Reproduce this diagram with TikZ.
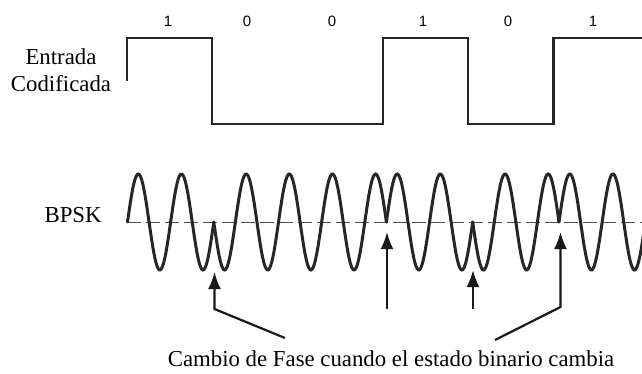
\documentclass[tikz,border=0pt]{standalone}
\usepackage{fontspec}
\setmainfont{Liberation Serif}
\newfontfamily\digitos{Liberation Sans}
\usetikzlibrary{arrows.meta, calc, positioning}

\begin{document}
\begin{tikzpicture}[
  x=0.5pt, y=-0.5pt,
  etiq/.style={font=\fontsize{11.4}{13.3}\selectfont, inner sep=0pt, align=center},
  bit/.style={font=\digitos\fontsize{7.5}{8}\selectfont, inner sep=0pt},
  cuadrada/.style={line width=1.1pt, black!85, line join=miter},
  onda/.style={line width=1.5pt, black!85, line cap=round},
  eje/.style={line width=0.5pt, black!70, dash pattern=on 7pt off 2.5pt},
  flecha/.style={line width=1.1pt, black!90, -{Latex[length=8.5pt, width=6.5pt]}}
]
\useasboundingbox (0,0) rectangle (642,374);

%% ---------------------------------------------------------
%% Entrada codificada: 1 0 0 1 0 1
%% ---------------------------------------------------------
\node[etiq, anchor=base] (entrada) at (61,91.5) {Entrada\\Codificada};

\node[bit] (b1) at (168,21.5) {1};
\node[bit] (b2) at (247,21.5) {0};
\node[bit] (b3) at (332,21.5) {0};
\node[bit] (b4) at (423,21.5) {1};
\node[bit] (b5) at (508,21.5) {0};
\node[bit] (b6) at (593,21.5) {1};

\draw[cuadrada] (126.7,81) -- (126.7,38) -- (212,38) -- (212,124)
  -- (383,124) -- (383,38) -- (468,38) -- (468,124)
  -- (553.5,124) -- (553.5,38) -- (642,38);

%% ---------------------------------------------------------
%% BPSK
%% ---------------------------------------------------------
\node[etiq, anchor=base east] (bpsk) at (102,222) {BPSK};

\draw[eje] (127,222) -- (642,222);

\begin{scope}
\clip (0,0) rectangle (642,374);
\foreach \b [count=\i from 0] in {1,0,0,1,0,1}{
  \pgfmathsetmacro{\xa}{127.5+86.3*\i}
  \pgfmathsetmacro{\xb}{\xa+86.3}
  \pgfmathsetmacro{\s}{2*\b-1}
  \draw[onda] plot[domain=\xa:\xb, samples=80, smooth]
    (\x, {222-\s*48*sin((\x-\xa)*8.343)});
}
\end{scope}

%% ---------------------------------------------------------
%% Cambios de fase
%% ---------------------------------------------------------
\node[etiq, anchor=base] (cambio) at (391,366.7)
  {Cambio de Fase cuando el estado binario cambia};

\coordinate (c1) at (214.5,272);
\coordinate (c2) at (387,232);
\coordinate (c3) at (473,270);
\coordinate (c4) at (560.5,232);

\coordinate (q1) at (214.5,309);
\coordinate (q2) at (387,309);
\coordinate (q3) at (473,309);
\coordinate (q4) at (560.5,307);

\coordinate (e1) at (285,338);
\coordinate (e4) at (495,340);

\draw[flecha] (e1) -- (q1) -- (c1);
\draw[flecha] (q2) -- (c2);
\draw[flecha] (q3) -- (c3);
\draw[flecha] (e4) -- (q4) -- (c4);

\end{tikzpicture}
\end{document}
